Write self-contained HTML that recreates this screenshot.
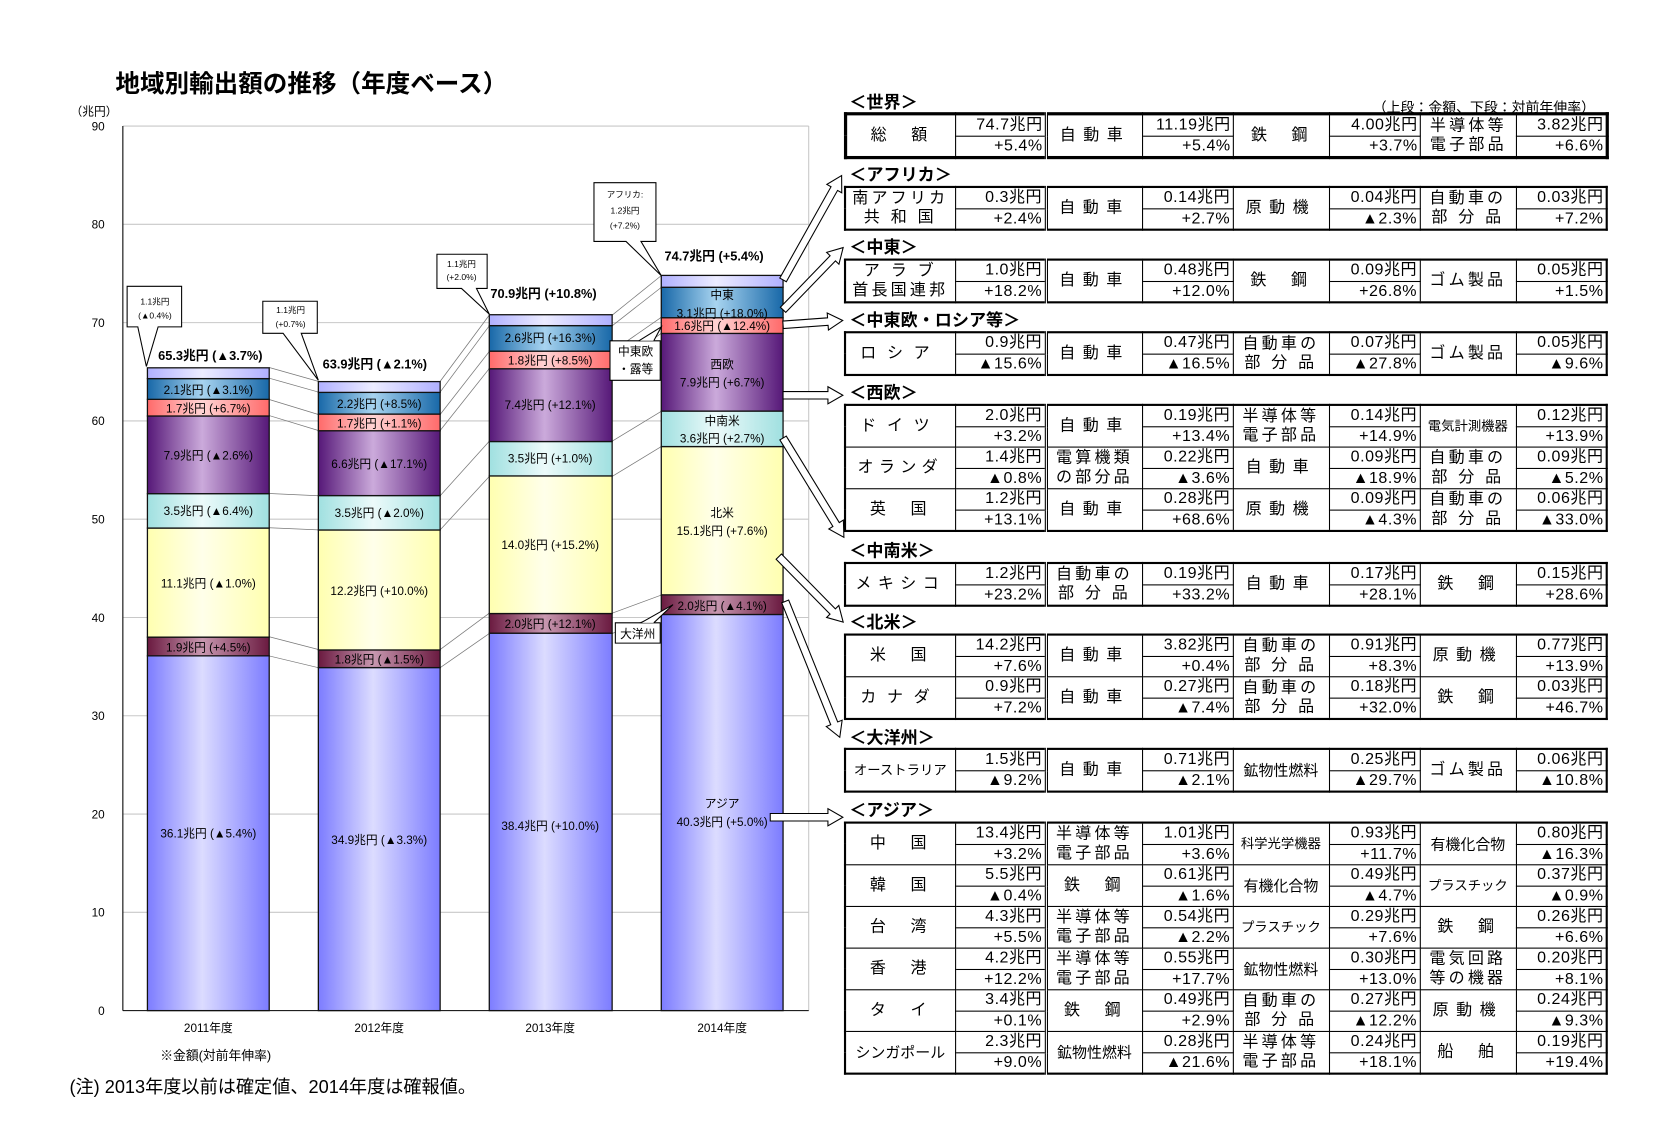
<!DOCTYPE html>
<html><head><meta charset="utf-8">
<style>
html,body{margin:0;padding:0;background:#fff;}
body{width:1674px;height:1136px;overflow:hidden;}
#w{position:absolute;left:0;top:0;width:1567px;height:1064px;transform:scale(1.0683);transform-origin:0 0;font-family:"Liberation Sans","Noto Sans CJK JP",sans-serif;color:#000;}
.a{position:absolute;white-space:nowrap;}
.h{position:absolute;font-weight:bold;font-size:16px;left:795px;line-height:16px;}
table{position:absolute;left:790px;width:713px;border-collapse:collapse;table-layout:fixed;border:2px solid #000;}
td{border:1px solid #000;padding:0;height:18.5px;line-height:18px;font-size:15px;text-align:center;overflow:hidden;white-space:nowrap;}
td.v{text-align:right;padding-right:2px;letter-spacing:0.5px;}
td.n{letter-spacing:4px;}
td.c2{border-right:3px double #000;}
td.it{letter-spacing:3px;line-height:18px;}
td.s{font-size:12.5px;letter-spacing:0;}
</style></head><body><div id="w">
<div class="a" style="left:108px;top:59px;font-size:23px;font-weight:bold;">地域別輸出額の推移（年度ベース）</div>
<div class="a" style="left:66px;top:96px;font-size:11px;">（兆円）</div>
<svg width="1567" height="1064" style="position:absolute;left:0;top:0;" font-family="Liberation Sans, Noto Sans CJK JP, sans-serif">
<defs>
<linearGradient id="asia"><stop offset="0" stop-color="#7c7cff"/><stop offset="0.45" stop-color="#dcdcff"/><stop offset="1" stop-color="#7c7cff"/></linearGradient>
<linearGradient id="oce"><stop offset="0" stop-color="#6a1a40"/><stop offset="0.45" stop-color="#c898b0"/><stop offset="1" stop-color="#6a1a40"/></linearGradient>
<linearGradient id="na"><stop offset="0" stop-color="#ffffb0"/><stop offset="0.45" stop-color="#ffffea"/><stop offset="1" stop-color="#ffffb0"/></linearGradient>
<linearGradient id="csa"><stop offset="0" stop-color="#a0e0e0"/><stop offset="0.45" stop-color="#ecfafa"/><stop offset="1" stop-color="#a0e0e0"/></linearGradient>
<linearGradient id="we"><stop offset="0" stop-color="#561878"/><stop offset="0.45" stop-color="#cbaadb"/><stop offset="1" stop-color="#561878"/></linearGradient>
<linearGradient id="cee"><stop offset="0" stop-color="#ff6a6a"/><stop offset="0.45" stop-color="#ffd4d4"/><stop offset="1" stop-color="#ff6a6a"/></linearGradient>
<linearGradient id="me"><stop offset="0" stop-color="#1868a8"/><stop offset="0.45" stop-color="#a8d4f0"/><stop offset="1" stop-color="#1868a8"/></linearGradient>
<linearGradient id="af"><stop offset="0" stop-color="#b0b0ff"/><stop offset="0.45" stop-color="#ececff"/><stop offset="1" stop-color="#b0b0ff"/></linearGradient>
</defs>
<g stroke="#c8c8c8" stroke-width="1">
<line x1="115" y1="118" x2="757" y2="118"/><line x1="115" y1="210" x2="757" y2="210"/><line x1="115" y1="302" x2="757" y2="302"/><line x1="115" y1="394" x2="757" y2="394"/><line x1="115" y1="486" x2="757" y2="486"/><line x1="115" y1="578" x2="757" y2="578"/><line x1="115" y1="670" x2="757" y2="670"/><line x1="115" y1="762" x2="757" y2="762"/><line x1="115" y1="854" x2="757" y2="854"/>
<line x1="757" y1="118" x2="757" y2="946"/>
</g>
<line x1="115" y1="118" x2="115" y2="946" stroke="#000"/><line x1="115" y1="946" x2="757" y2="946" stroke="#000"/>
<g font-size="11" text-anchor="end">
<text x="98" y="122">90</text><text x="98" y="214">80</text><text x="98" y="306">70</text><text x="98" y="398">60</text><text x="98" y="490">50</text><text x="98" y="582">40</text><text x="98" y="674">30</text><text x="98" y="766">20</text><text x="98" y="858">10</text><text x="98" y="950">0</text>
</g>
<g stroke="#777" stroke-width="0.7">
<line x1="252" y1="614" x2="298" y2="625"/><line x1="252" y1="596" x2="298" y2="608"/><line x1="252" y1="494" x2="298" y2="496"/><line x1="252" y1="462" x2="298" y2="464"/><line x1="252" y1="389" x2="298" y2="403"/><line x1="252" y1="374" x2="298" y2="388"/><line x1="252" y1="354" x2="298" y2="367"/><line x1="252" y1="344" x2="298" y2="357"/>
<line x1="412" y1="625" x2="458" y2="593"/><line x1="412" y1="608" x2="458" y2="574"/><line x1="412" y1="496" x2="458" y2="446"/><line x1="412" y1="464" x2="458" y2="413"/><line x1="412" y1="403" x2="458" y2="345"/><line x1="412" y1="388" x2="458" y2="329"/><line x1="412" y1="367" x2="458" y2="305"/><line x1="412" y1="357" x2="458" y2="295"/>
<line x1="573" y1="593" x2="619" y2="575"/><line x1="573" y1="574" x2="619" y2="557"/><line x1="573" y1="446" x2="619" y2="418"/><line x1="573" y1="413" x2="619" y2="385"/><line x1="573" y1="345" x2="619" y2="312"/><line x1="573" y1="329" x2="619" y2="297"/><line x1="573" y1="305" x2="619" y2="269"/><line x1="573" y1="295" x2="619" y2="258"/>
</g>
<g stroke="#111" stroke-width="1.2">
<rect x="138" y="613.9" width="114" height="332.1" fill="url(#asia)"/>
<rect x="138" y="596.4" width="114" height="17.5" fill="url(#oce)"/>
<rect x="138" y="494.3" width="114" height="102.1" fill="url(#na)"/>
<rect x="138" y="462.1" width="114" height="32.2" fill="url(#csa)"/>
<rect x="138" y="389.4" width="114" height="72.7" fill="url(#we)"/>
<rect x="138" y="373.8" width="114" height="15.6" fill="url(#cee)"/>
<rect x="138" y="354.4" width="114" height="19.4" fill="url(#me)"/>
<rect x="138" y="344.3" width="114" height="10.1" fill="url(#af)"/>
<rect x="298" y="624.9" width="114" height="321.1" fill="url(#asia)"/>
<rect x="298" y="608.4" width="114" height="16.5" fill="url(#oce)"/>
<rect x="298" y="496.1" width="114" height="112.3" fill="url(#na)"/>
<rect x="298" y="463.9" width="114" height="32.2" fill="url(#csa)"/>
<rect x="298" y="403.2" width="114" height="60.7" fill="url(#we)"/>
<rect x="298" y="387.6" width="114" height="15.6" fill="url(#cee)"/>
<rect x="298" y="367.3" width="114" height="20.3" fill="url(#me)"/>
<rect x="298" y="357.2" width="114" height="10.1" fill="url(#af)"/>
<rect x="458" y="592.7" width="115" height="353.3" fill="url(#asia)"/>
<rect x="458" y="574.3" width="115" height="18.4" fill="url(#oce)"/>
<rect x="458" y="445.5" width="115" height="128.8" fill="url(#na)"/>
<rect x="458" y="413.3" width="115" height="32.2" fill="url(#csa)"/>
<rect x="458" y="345.2" width="115" height="68.1" fill="url(#we)"/>
<rect x="458" y="328.7" width="115" height="16.5" fill="url(#cee)"/>
<rect x="458" y="304.8" width="115" height="23.9" fill="url(#me)"/>
<rect x="458" y="294.6" width="115" height="10.2" fill="url(#af)"/>
<rect x="619" y="575.2" width="114" height="370.8" fill="url(#asia)"/>
<rect x="619" y="556.8" width="114" height="18.4" fill="url(#oce)"/>
<rect x="619" y="418.0" width="114" height="138.8" fill="url(#na)"/>
<rect x="619" y="384.8" width="114" height="33.2" fill="url(#csa)"/>
<rect x="619" y="312.1" width="114" height="72.7" fill="url(#we)"/>
<rect x="619" y="297.4" width="114" height="14.7" fill="url(#cee)"/>
<rect x="619" y="268.9" width="114" height="28.5" fill="url(#me)"/>
<rect x="619" y="257.8" width="114" height="11.1" fill="url(#af)"/>
</g>
<g font-size="11" text-anchor="middle">
<text x="195" y="784">36.1兆円 (▲5.4%)</text><text x="195" y="610">1.9兆円 (+4.5%)</text><text x="195" y="550">11.1兆円 (▲1.0%)</text><text x="195" y="482">3.5兆円 (▲6.4%)</text><text x="195" y="430">7.9兆円 (▲2.6%)</text><text x="195" y="386">1.7兆円 (+6.7%)</text><text x="195" y="369">2.1兆円 (▲3.1%)</text>
<text x="355" y="790">34.9兆円 (▲3.3%)</text><text x="355" y="621">1.8兆円 (▲1.5%)</text><text x="355" y="557">12.2兆円 (+10.0%)</text><text x="355" y="484">3.5兆円 (▲2.0%)</text><text x="355" y="438">6.6兆円 (▲17.1%)</text><text x="355" y="400">1.7兆円 (+1.1%)</text><text x="355" y="382">2.2兆円 (+8.5%)</text>
<text x="515" y="777">38.4兆円 (+10.0%)</text><text x="515" y="588">2.0兆円 (+12.1%)</text><text x="515" y="514">14.0兆円 (+15.2%)</text><text x="515" y="433">3.5兆円 (+1.0%)</text><text x="515" y="383">7.4兆円 (+12.1%)</text><text x="515" y="341">1.8兆円 (+8.5%)</text><text x="515" y="320">2.6兆円 (+16.3%)</text>
<text x="676" y="756">アジア</text><text x="676" y="773">40.3兆円 (+5.0%)</text><text x="676" y="571">2.0兆円 (▲4.1%)</text><text x="676" y="484">北米</text><text x="676" y="501">15.1兆円 (+7.6%)</text><text x="676" y="398">中南米</text><text x="676" y="414">3.6兆円 (+2.7%)</text><text x="676" y="345">西欧</text><text x="676" y="362">7.9兆円 (+6.7%)</text><text x="676" y="309">1.6兆円 (▲12.4%)</text><text x="676" y="280">中東</text><text x="676" y="297">3.1兆円 (+18.0%)</text>
</g>
<g font-size="12" font-weight="bold">
<text x="148" y="337">65.3兆円 (▲3.7%)</text><text x="302" y="345">63.9兆円 (▲2.1%)</text><text x="459" y="279">70.9兆円 (+10.8%)</text><text x="622" y="244">74.7兆円 (+5.4%)</text>
</g>
<g fill="#fff" stroke="#000" stroke-width="1">
<path d="M119,268 H170 V306 H148 L137,343 L129,306 H119 Z"/>
<path d="M246,282 H297 V312 H282 L298,356 L265,312 H246 Z"/>
<path d="M409,238 H456 V270 H446 L458,294 L432,270 H409 Z"/>
<path d="M556,171 H614 V226 H600 L619,258 L586,226 H556 Z"/>
<path d="M571,319 H618 V356 H571 Z"/>
<path d="M598,319 L619,306 L612,319"/>
<path d="M576,583 H618 V602 H576 Z"/>
<path d="M600,583 L630,566 L612,583"/>
</g>
<g font-size="8" text-anchor="middle">
<text x="145" y="285">1.1兆円</text><text x="145" y="298">(▲0.4%)</text>
<text x="272" y="293">1.1兆円</text><text x="272" y="306">(+0.7%)</text>
<text x="432" y="250">1.1兆円</text><text x="432" y="262">(+2.0%)</text>
<text x="585" y="185">アフリカ:</text><text x="585" y="200">1.2兆円</text><text x="585" y="214">(+7.2%)</text>
</g>
<g font-size="11" text-anchor="middle"><text x="595" y="333">中東欧</text><text x="595" y="349">・露等</text><text x="597" y="597">大洋州</text></g>
<g font-size="11" text-anchor="middle"><text x="195" y="966">2011年度</text><text x="355" y="966">2012年度</text><text x="515" y="966">2013年度</text><text x="676" y="966">2014年度</text></g>
<text x="150" y="992" font-size="12">※金額(対前年伸率)</text>
<text x="65" y="1023" font-size="17">(注) 2013年度以前は確定値、2014年度は確報値。</text>
<g fill="#fff" stroke="#000" stroke-width="1">
<g transform="translate(733,262) rotate(-60.7)"><polygon points="0,-3.5 98,-3.5 98,-8 112,0 98,8 98,3.5 0,3.5"/></g>
<g transform="translate(733,290) rotate(-46)"><polygon points="0,-3.5 67,-3.5 67,-8 81,0 67,8 67,3.5 0,3.5"/></g>
<g transform="translate(733,304) rotate(-4.1)"><polygon points="0,-3.5 42,-3.5 42,-8 56,0 42,8 42,3.5 0,3.5"/></g>
<g transform="translate(733,370)"><polygon points="0,-3.5 42,-3.5 42,-8 56,0 42,8 42,3.5 0,3.5"/></g>
<g transform="translate(733,410) rotate(58.5)"><polygon points="0,-3.5 95,-3.5 95,-8 109,0 95,8 95,3.5 0,3.5"/></g>
<g transform="translate(729,521) rotate(45.5)"><polygon points="0,-3.5 72,-3.5 72,-8 86,0 72,8 72,3.5 0,3.5"/></g>
<g transform="translate(735,563) rotate(68.1)"><polygon points="0,-3.5 123,-3.5 123,-8 137,0 123,8 123,3.5 0,3.5"/></g>
<g transform="translate(721,765)"><polygon points="0,-3.5 54,-3.5 54,-8 68,0 54,8 54,3.5 0,3.5"/></g>
</g>
</svg>

<div class="h" style="top:89px;">＜世界＞</div>
<div class="a" style="left:1285px;top:90px;font-size:13px;">（上段：金額、下段：対前年伸率）</div>
<table style="top:105px;border:3px solid #000;"><colgroup><col style="width:103px"><col style="width:85px"><col style="width:90px"><col style="width:85px"><col style="width:90px"><col style="width:85px"><col style="width:90px"><col style="width:85px"></colgroup>
<tr><td rowspan="2" class="n">総　額</td><td class="v c2">74.7兆円</td><td rowspan="2" class="it" style="letter-spacing:7px">自動車</td><td class="v">11.19兆円</td><td rowspan="2" class="n">鉄　鋼</td><td class="v">4.00兆円</td><td rowspan="2" class="it">半導体等<br>電子部品</td><td class="v">3.82兆円</td></tr>
<tr><td class="v c2">+5.4%</td><td class="v">+5.4%</td><td class="v">+3.7%</td><td class="v">+6.6%</td></tr></table>

<div class="h" style="top:157px;">＜アフリカ＞</div>
<table style="top:174px;"><colgroup><col style="width:103px"><col style="width:85px"><col style="width:90px"><col style="width:85px"><col style="width:90px"><col style="width:85px"><col style="width:90px"><col style="width:85px"></colgroup>
<tr><td rowspan="2" class="it">南アフリカ<br>共 和 国</td><td class="v c2">0.3兆円</td><td rowspan="2" class="it" style="letter-spacing:7px">自動車</td><td class="v">0.14兆円</td><td rowspan="2" class="it" style="letter-spacing:7px">原動機</td><td class="v">0.04兆円</td><td rowspan="2" class="it">自動車の<br>部 分 品</td><td class="v">0.03兆円</td></tr>
<tr><td class="v c2">+2.4%</td><td class="v">+2.7%</td><td class="v">▲2.3%</td><td class="v">+7.2%</td></tr></table>

<div class="h" style="top:225px;">＜中東＞</div>
<table style="top:242px;"><colgroup><col style="width:103px"><col style="width:85px"><col style="width:90px"><col style="width:85px"><col style="width:90px"><col style="width:85px"><col style="width:90px"><col style="width:85px"></colgroup>
<tr><td rowspan="2" class="it">ア ラ ブ<br>首長国連邦</td><td class="v c2">1.0兆円</td><td rowspan="2" class="it" style="letter-spacing:7px">自動車</td><td class="v">0.48兆円</td><td rowspan="2" class="n">鉄　鋼</td><td class="v">0.09兆円</td><td rowspan="2" class="it">ゴム製品</td><td class="v">0.05兆円</td></tr>
<tr><td class="v c2">+18.2%</td><td class="v">+12.0%</td><td class="v">+26.8%</td><td class="v">+1.5%</td></tr></table>

<div class="h" style="top:293px;">＜中東欧・ロシア等＞</div>
<table style="top:310px;"><colgroup><col style="width:103px"><col style="width:85px"><col style="width:90px"><col style="width:85px"><col style="width:90px"><col style="width:85px"><col style="width:90px"><col style="width:85px"></colgroup>
<tr><td rowspan="2" class="it" style="letter-spacing:10px">ロシア</td><td class="v c2">0.9兆円</td><td rowspan="2" class="it" style="letter-spacing:7px">自動車</td><td class="v">0.47兆円</td><td rowspan="2" class="it">自動車の<br>部 分 品</td><td class="v">0.07兆円</td><td rowspan="2" class="it">ゴム製品</td><td class="v">0.05兆円</td></tr>
<tr><td class="v c2">▲15.6%</td><td class="v">▲16.5%</td><td class="v">▲27.8%</td><td class="v">▲9.6%</td></tr></table>

<div class="h" style="top:361px;">＜西欧＞</div>
<table style="top:378px;"><colgroup><col style="width:103px"><col style="width:85px"><col style="width:90px"><col style="width:85px"><col style="width:90px"><col style="width:85px"><col style="width:90px"><col style="width:85px"></colgroup>
<tr><td rowspan="2" class="it" style="letter-spacing:10px">ドイツ</td><td class="v c2">2.0兆円</td><td rowspan="2" class="it" style="letter-spacing:7px">自動車</td><td class="v">0.19兆円</td><td rowspan="2" class="it">半導体等<br>電子部品</td><td class="v">0.14兆円</td><td rowspan="2" class="s">電気計測機器</td><td class="v">0.12兆円</td></tr>
<tr><td class="v c2">+3.2%</td><td class="v">+13.4%</td><td class="v">+14.9%</td><td class="v">+13.9%</td></tr>
<tr><td rowspan="2" class="it" style="letter-spacing:5px">オランダ</td><td class="v c2">1.4兆円</td><td rowspan="2" class="it">電算機類<br>の部分品</td><td class="v">0.22兆円</td><td rowspan="2" class="it" style="letter-spacing:7px">自動車</td><td class="v">0.09兆円</td><td rowspan="2" class="it">自動車の<br>部 分 品</td><td class="v">0.09兆円</td></tr>
<tr><td class="v c2">▲0.8%</td><td class="v">▲3.6%</td><td class="v">▲18.9%</td><td class="v">▲5.2%</td></tr>
<tr><td rowspan="2" class="n">英　国</td><td class="v c2">1.2兆円</td><td rowspan="2" class="it" style="letter-spacing:7px">自動車</td><td class="v">0.28兆円</td><td rowspan="2" class="it" style="letter-spacing:7px">原動機</td><td class="v">0.09兆円</td><td rowspan="2" class="it">自動車の<br>部 分 品</td><td class="v">0.06兆円</td></tr>
<tr><td class="v c2">+13.1%</td><td class="v">+68.6%</td><td class="v">▲4.3%</td><td class="v">▲33.0%</td></tr></table>

<div class="h" style="top:509px;">＜中南米＞</div>
<table style="top:526px;"><colgroup><col style="width:103px"><col style="width:85px"><col style="width:90px"><col style="width:85px"><col style="width:90px"><col style="width:85px"><col style="width:90px"><col style="width:85px"></colgroup>
<tr><td rowspan="2" class="it" style="letter-spacing:6px">メキシコ</td><td class="v c2">1.2兆円</td><td rowspan="2" class="it">自動車の<br>部 分 品</td><td class="v">0.19兆円</td><td rowspan="2" class="it" style="letter-spacing:7px">自動車</td><td class="v">0.17兆円</td><td rowspan="2" class="n">鉄　鋼</td><td class="v">0.15兆円</td></tr>
<tr><td class="v c2">+23.2%</td><td class="v">+33.2%</td><td class="v">+28.1%</td><td class="v">+28.6%</td></tr></table>

<div class="h" style="top:576px;">＜北米＞</div>
<table style="top:593px;"><colgroup><col style="width:103px"><col style="width:85px"><col style="width:90px"><col style="width:85px"><col style="width:90px"><col style="width:85px"><col style="width:90px"><col style="width:85px"></colgroup>
<tr><td rowspan="2" class="n">米　国</td><td class="v c2">14.2兆円</td><td rowspan="2" class="it" style="letter-spacing:7px">自動車</td><td class="v">3.82兆円</td><td rowspan="2" class="it">自動車の<br>部 分 品</td><td class="v">0.91兆円</td><td rowspan="2" class="it" style="letter-spacing:7px">原動機</td><td class="v">0.77兆円</td></tr>
<tr><td class="v c2">+7.6%</td><td class="v">+0.4%</td><td class="v">+8.3%</td><td class="v">+13.9%</td></tr>
<tr><td rowspan="2" class="it" style="letter-spacing:10px">カナダ</td><td class="v c2">0.9兆円</td><td rowspan="2" class="it" style="letter-spacing:7px">自動車</td><td class="v">0.27兆円</td><td rowspan="2" class="it">自動車の<br>部 分 品</td><td class="v">0.18兆円</td><td rowspan="2" class="n">鉄　鋼</td><td class="v">0.03兆円</td></tr>
<tr><td class="v c2">+7.2%</td><td class="v">▲7.4%</td><td class="v">+32.0%</td><td class="v">+46.7%</td></tr></table>

<div class="h" style="top:684px;">＜大洋州＞</div>
<table style="top:700px;"><colgroup><col style="width:103px"><col style="width:85px"><col style="width:90px"><col style="width:85px"><col style="width:90px"><col style="width:85px"><col style="width:90px"><col style="width:85px"></colgroup>
<tr><td rowspan="2" class="s">オーストラリア</td><td class="v c2">1.5兆円</td><td rowspan="2" class="it" style="letter-spacing:7px">自動車</td><td class="v">0.71兆円</td><td rowspan="2" class="s" style="font-size:14px">鉱物性燃料</td><td class="v">0.25兆円</td><td rowspan="2" class="it">ゴム製品</td><td class="v">0.06兆円</td></tr>
<tr><td class="v c2">▲9.2%</td><td class="v">▲2.1%</td><td class="v">▲29.7%</td><td class="v">▲10.8%</td></tr></table>

<div class="h" style="top:752px;">＜アジア＞</div>
<table style="top:769px;"><colgroup><col style="width:103px"><col style="width:85px"><col style="width:90px"><col style="width:85px"><col style="width:90px"><col style="width:85px"><col style="width:90px"><col style="width:85px"></colgroup>
<tr><td rowspan="2" class="n">中　国</td><td class="v c2">13.4兆円</td><td rowspan="2" class="it">半導体等<br>電子部品</td><td class="v">1.01兆円</td><td rowspan="2" class="s">科学光学機器</td><td class="v">0.93兆円</td><td rowspan="2" class="s" style="font-size:14px">有機化合物</td><td class="v">0.80兆円</td></tr>
<tr><td class="v c2">+3.2%</td><td class="v">+3.6%</td><td class="v">+11.7%</td><td class="v">▲16.3%</td></tr>
<tr><td rowspan="2" class="n">韓　国</td><td class="v c2">5.5兆円</td><td rowspan="2" class="n">鉄　鋼</td><td class="v">0.61兆円</td><td rowspan="2" class="s" style="font-size:14px">有機化合物</td><td class="v">0.49兆円</td><td rowspan="2" class="s">プラスチック</td><td class="v">0.37兆円</td></tr>
<tr><td class="v c2">▲0.4%</td><td class="v">▲1.6%</td><td class="v">▲4.7%</td><td class="v">▲0.9%</td></tr>
<tr><td rowspan="2" class="n">台　湾</td><td class="v c2">4.3兆円</td><td rowspan="2" class="it">半導体等<br>電子部品</td><td class="v">0.54兆円</td><td rowspan="2" class="s">プラスチック</td><td class="v">0.29兆円</td><td rowspan="2" class="n">鉄　鋼</td><td class="v">0.26兆円</td></tr>
<tr><td class="v c2">+5.5%</td><td class="v">▲2.2%</td><td class="v">+7.6%</td><td class="v">+6.6%</td></tr>
<tr><td rowspan="2" class="n">香　港</td><td class="v c2">4.2兆円</td><td rowspan="2" class="it">半導体等<br>電子部品</td><td class="v">0.55兆円</td><td rowspan="2" class="s" style="font-size:14px">鉱物性燃料</td><td class="v">0.30兆円</td><td rowspan="2" class="it">電気回路<br>等の機器</td><td class="v">0.20兆円</td></tr>
<tr><td class="v c2">+12.2%</td><td class="v">+17.7%</td><td class="v">+13.0%</td><td class="v">+8.1%</td></tr>
<tr><td rowspan="2" class="n">タ　イ</td><td class="v c2">3.4兆円</td><td rowspan="2" class="n">鉄　鋼</td><td class="v">0.49兆円</td><td rowspan="2" class="it">自動車の<br>部 分 品</td><td class="v">0.27兆円</td><td rowspan="2" class="it" style="letter-spacing:7px">原動機</td><td class="v">0.24兆円</td></tr>
<tr><td class="v c2">+0.1%</td><td class="v">+2.9%</td><td class="v">▲12.2%</td><td class="v">▲9.3%</td></tr>
<tr><td rowspan="2" class="s" style="font-size:14px">シンガポール</td><td class="v c2">2.3兆円</td><td rowspan="2" class="s" style="font-size:14px">鉱物性燃料</td><td class="v">0.28兆円</td><td rowspan="2" class="it">半導体等<br>電子部品</td><td class="v">0.24兆円</td><td rowspan="2" class="n">船　舶</td><td class="v">0.19兆円</td></tr>
<tr><td class="v c2">+9.0%</td><td class="v">▲21.6%</td><td class="v">+18.1%</td><td class="v">+19.4%</td></tr></table>
</div></body></html>
